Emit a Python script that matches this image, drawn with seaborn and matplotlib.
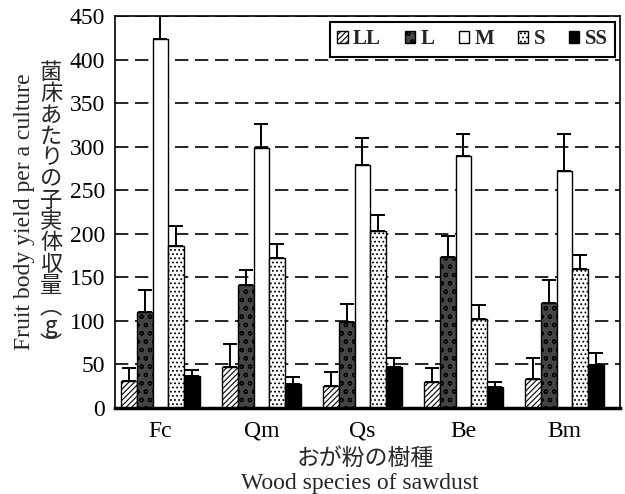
import numpy as np
import pandas as pd
import matplotlib
matplotlib.use("Agg")
import matplotlib.pyplot as plt
import seaborn as sns
from matplotlib.patches import Patch

# ========== DATA ==========
species = ["Fc", "Qm", "Qs", "Be", "Bm"]
sizes = ["LL", "L", "M", "S", "SS"]

yield_LL = [31, 47, 25, 30, 33]
yield_L = [110, 141, 99, 173, 121]
yield_M = [424, 298, 279, 289, 272]
yield_S = [186, 172, 203, 102, 160]
yield_SS = [37, 28, 47, 24, 49]

err_LL = [15, 27, 16, 16, 24]
err_L = [25, 17, 20, 25, 26]
err_M = [34, 28, 31, 25, 42]
err_S = [23, 16, 18, 16, 16]
err_SS = [7, 8, 10, 6, 14]

yields = [yield_LL, yield_L, yield_M, yield_S, yield_SS]
errors = [err_LL, err_L, err_M, err_S, err_SS]

ylabel_en = "Fruit body yield per a culture"
# vertical writing: one glyph per line, vertical-form parentheses for the unit
ylabel_jp = list("菌床あたりの子実体収量")
ylabel_unit = ["\ufe35", "g", "\ufe36"]
xlabel_jp = "おが粉の樹種"
xlabel_en = "Wood species of sawdust"

# ========== STYLE ==========
sns.set_theme(style="white")
plt.rcParams["font.family"] = ["Liberation Serif", "DejaVu Serif"]
plt.rcParams["hatch.linewidth"] = 0.8
JP = ["Noto Sans CJK JP", "DejaVu Sans"]
W, H = 625, 494

# bar styles per size class: (facecolor, hatch)
styles = {
    "LL": ("white", "//////"),
    "L": ("#454545", "oo"),
    "M": ("white", ""),
    "S": ("white", "...."),
    "SS": ("black", ""),
}

rows = []
for size, vals in zip(sizes, yields):
    for sp, v in zip(species, vals):
        rows.append({"species": sp, "size": size, "yield": v})
df = pd.DataFrame(rows)

# ========== PLOT ==========
fig = plt.figure(figsize=(W / 100, H / 100), dpi=100)
ax = fig.add_axes([115 / W, 1 - 408 / H, 505 / W, 392 / H])

sns.barplot(data=df, x="species", y="yield", hue="size", order=species,
            hue_order=sizes, errorbar=None, width=0.78, legend=False,
            palette=["white"] * 5, edgecolor="black", linewidth=1.0,
            saturation=1, ax=ax)

for size, cont, err in zip(sizes, ax.containers, errors):
    fc, hatch = styles[size]
    xs, hs = [], []
    for p in cont.patches:
        p.set_facecolor(fc)
        p.set_hatch(hatch)
        p.set_edgecolor("black")
        xs.append(p.get_x() + p.get_width() / 2)
        hs.append(p.get_height())
    ax.errorbar(xs, hs, yerr=[np.zeros(len(err)), err], fmt="none",
                ecolor="black", elinewidth=1.4, capsize=5, capthick=1.4, zorder=1)

ax.set_ylim(0, 450)
ax.set_xlim(-0.45, 4.55)
ax.set_yticks(np.arange(0, 451, 50))
ax.yaxis.grid(True, color="black", linestyle=(0, (8, 4)), linewidth=1.2)
ax.set_axisbelow(True)
for s in ax.spines.values():
    s.set_color("black")
    s.set_linewidth(1.2)
ax.spines["bottom"].set_linewidth(2.5)
ax.tick_params(axis="both", length=0, labelsize=17, colors="black")
ax.tick_params(axis="y", pad=7)
ax.tick_params(axis="x", pad=9)
ax.set_xlabel("")
ax.set_ylabel("")

handles = [Patch(facecolor=styles[s][0], hatch=styles[s][1], edgecolor="black", label=s)
           for s in sizes]
leg = ax.legend(handles=handles, ncol=5, loc="upper right",
                bbox_to_anchor=(0.99, 1 - 6 / 392), borderaxespad=0,
                frameon=True, fancybox=False, handlelength=0.5, handleheight=0.5,
                handletextpad=0.25, columnspacing=1.15, borderpad=0.35,
                prop={"family": "Liberation Serif", "weight": "bold", "size": 15})
leg.get_frame().set_edgecolor("black")
leg.get_frame().set_linewidth(1.5)
leg.get_frame().set_alpha(1)

# y axis title: English (rotated) + Japanese (vertical writing)
fig.text(25 / W, 1 - 212 / H, ylabel_en, rotation=90,
         ha="center", va="center", fontsize=17)
fig.text(51 / W, 1 - 61 / H, "\n".join(ylabel_jp), ha="center", va="top",
         multialignment="center", fontsize=16, linespacing=0.905, family=JP)
fig.text(51 / W, 1 - 326 / H, "\n".join(ylabel_unit), ha="center", va="center",
         multialignment="center", fontsize=16, linespacing=0.8, family=JP)

# x axis title
fig.text(365 / W, 1 - 458 / H, xlabel_jp, ha="center", va="center", fontsize=16.5, family=JP)
fig.text(360 / W, 1 - 483 / H, xlabel_en, ha="center", va="center", fontsize=17)

fig.savefig("out.png", dpi=100)
